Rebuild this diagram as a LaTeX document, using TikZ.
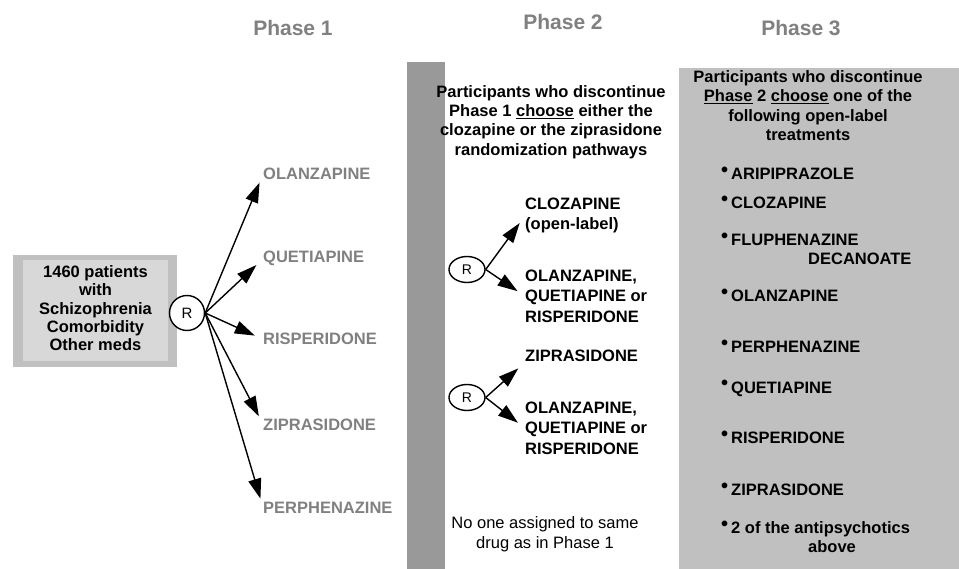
\documentclass[tikz,border=0pt]{standalone}
\usepackage{fontspec}
\setmainfont{Liberation Sans}
\usetikzlibrary{arrows.meta,shapes.geometric}

\definecolor{boxgray}{HTML}{C0C0C0}
\definecolor{innergray}{HTML}{D8D8D8}
\definecolor{bargray}{HTML}{999999}
\definecolor{labelgray}{HTML}{808080}

\newcommand{\bul}{\makebox[9pt][l]{\hspace{-1pt}\raisebox{3pt}{\fontsize{20}{20}\selectfont\textbullet}}}

\begin{document}
\begin{tikzpicture}[x=1pt, y=-1pt,
        phase/.style={font=\fontsize{21}{25}\selectfont\bfseries, text=labelgray, inner sep=0pt, anchor=base},
        drug/.style={font=\fontsize{16.5}{19}\selectfont\bfseries, inner sep=0pt, anchor=base west},
        graydrug/.style={drug, text=labelgray},
        drugs/.style={font=\fontsize{16.5}{20.2}\selectfont\bfseries, inner sep=0pt, anchor=north west, align=left},
        note/.style={font=\fontsize{16.5}{19.3}\selectfont\bfseries, inner sep=0pt, anchor=north, align=center},
        rand/.style={circle, draw, line width=1.4pt, fill=white, minimum size=35pt, inner sep=0pt, font=\fontsize{15}{17}\selectfont},
        randsmall/.style={ellipse, draw, line width=1.4pt, fill=white, minimum width=36pt, minimum height=26pt, inner sep=0pt, font=\fontsize{14}{16}\selectfont},
        arr/.style={-{Triangle[length=20pt,width=13pt]}, line width=1.4pt, shorten >=9pt}]

        \useasboundingbox (0,0) rectangle (959,569);

        % backgrounds
        \fill[bargray] (407,62) rectangle (445,569);
        \fill[boxgray] (679,68) rectangle (959,569);
        \fill[boxgray] (13,255) rectangle (177,367);
        \fill[innergray] (23,260) rectangle (168,361);

        % headings
        \node[phase] (ph1) at (293,36) {Phase 1};
        \node[phase] (ph2) at (563,30) {Phase 2};
        \node[phase] (ph3) at (801,36) {Phase 3};

        % phase 1
        \node[note, font=\fontsize{16.5}{18.3}\selectfont\bfseries] (cohort) at (95.5,265.5)
            {1460 patients\\with\\Schizophrenia\\Comorbidity\\Other meds};
        \node[rand] (r1) at (187,313) {R};

        \node[graydrug] (olz) at (263,180) {OLANZAPINE};
        \node[graydrug] (que) at (263,263) {QUETIAPINE};
        \node[graydrug] (ris) at (263,345) {RISPERIDONE};
        \node[graydrug] (zip) at (263,430) {ZIPRASIDONE};
        \node[graydrug] (per) at (263,513) {PERPHENAZINE};

        \foreach \d in {olz, que, ris, zip, per}
            \draw[arr] (r1.east) -- (\d.west);

        % phase 2
        \node[note] (choice2) at (551,85)
            {Participants who discontinue\\Phase 1 \underline{choose} either the\\clozapine or the ziprasidone\\randomization pathways};

        \node[randsmall] (r2a) at (467,269.5) {R};
        \node[drugs] (cloz) at (525,198) {CLOZAPINE\\(open-label)};
        \node[drugs] (oqr1) at (525,270) {OLANZAPINE,\\QUETIAPINE or\\RISPERIDONE};
        \draw[arr] (r2a.east) -- (cloz.west);
        \draw[arr] (r2a.east) -- (oqr1.west);

        \node[randsmall] (r2b) at (467,397.5) {R};
        \node[drug] (zip2) at (525,362) {ZIPRASIDONE};
        \node[drugs] (oqr2) at (525,402) {OLANZAPINE,\\QUETIAPINE or\\RISPERIDONE};
        \draw[arr] (r2b.east) -- (zip2.south west);
        \draw[arr] (r2b.east) -- (oqr2.west);

        \node[note, font=\fontsize{16.5}{20}\selectfont] (nosame) at (545,516.5)
            {No one assigned to same\\drug as in Phase 1};

        % phase 3
        \node[note, font=\fontsize{16.5}{19.5}\selectfont\bfseries] (choice3) at (808,70)
            {Participants who discontinue\\\underline{Phase} 2 \underline{choose} one of the\\following open-label\\treatments};

        \node[drug] (t1) at (722,180) {\bul ARIPIPRAZOLE};
        \node[drug] (t2) at (722,209) {\bul CLOZAPINE};
        \node[drugs, font=\fontsize{16.5}{19}\selectfont\bfseries] (t3) at (722,233.2) {\bul FLUPHENAZINE\\\hspace*{86pt}DECANOATE};
        \node[drug] (t4) at (722,302) {\bul OLANZAPINE};
        \node[drug] (t5) at (722,353) {\bul PERPHENAZINE};
        \node[drug] (t6) at (722,393) {\bul QUETIAPINE};
        \node[drug] (t7) at (722,443) {\bul RISPERIDONE};
        \node[drug] (t8) at (722,495) {\bul ZIPRASIDONE};
        \node[drugs, font=\fontsize{16.5}{19}\selectfont\bfseries] (t9) at (722,521.2) {\bul 2 of the antipsychotics\\\hspace*{86pt}above};
    \end{tikzpicture}
\end{document}
